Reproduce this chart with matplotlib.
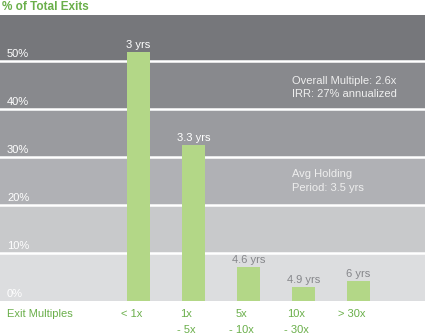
import matplotlib
matplotlib.use('Agg')
import matplotlib.pyplot as plt

plt.rcParams['font.family'] = ['Liberation Sans', 'DejaVu Sans']

categories = ['< 1x', '1x\n- 5x', '5x\n- 10x', '10x\n- 30x', '> 30x']
share = [52, 32.5, 7.1, 3.0, 4.2]
hold_labels = ['3 yrs', '3.3 yrs', '4.6 yrs', '4.9 yrs', '6 yrs']
ytick_vals = [0, 10, 20, 30, 40, 50]
band_colors = ['#dcdddf', '#c8c9cb', '#b0b1b5', '#9a9b9f', '#88898d', '#76777b']

green = '#6aaf4a'
bar_color = '#b3d787'
fs = 8

fig = plt.figure(figsize=(4.25, 3.36), dpi=100)
ax = fig.add_axes([0, 0.104, 1, 0.851])

# background bands
for i, c in enumerate(band_colors):
    ax.axhspan(i * 10, i * 10 + 10, color=c, zorder=0, lw=0)
for v in ytick_vals[1:]:
    ax.axhline(v, color='white', lw=1.8, zorder=1)

x = list(range(len(categories)))
ax.bar(x, share, width=0.42, color=bar_color, zorder=2)

for xi, v, lab in zip(x, share, hold_labels):
    col = 'white' if v > 20 else '#85868a'
    ax.text(xi, v + 0.4, lab, ha='center', va='bottom', fontsize=fs, color=col, zorder=3)

for v in ytick_vals:
    ax.text(-2.39, v + 0.5, f'{v}%', ha='left', va='bottom', fontsize=fs, color='white')

ax.text(2.8, 44.5, 'Overall Multiple: 2.6x\nIRR: 27% annualized', ha='left', va='center',
        fontsize=fs, color='#eeeeee', linespacing=1.45)
ax.text(2.8, 25.0, 'Avg Holding\nPeriod: 3.5 yrs', ha='left', va='center',
        fontsize=fs, color='#eeeeee', linespacing=1.45)

ax.set_xlim(-2.518, 5.21)
ax.set_ylim(0, 59.6)
ax.axis('off')

# x labels, one line at a time
fig.text(7 / 425, 1 - 314 / 336, 'Exit Multiples', ha='left', va='center', fontsize=fs, color=green)
for xi, lab in zip(x, categories):
    for k, line in enumerate(lab.split('\n')):
        ax.text(xi - 0.13, 0, line, transform=ax.get_xaxis_transform(), ha='center', va='center',
                fontsize=fs, color=green)
        ax.texts[-1].set_position((xi - 0.13, -(13 + 16 * k) / 286))

fig.text(2 / 425, 1 - 7 / 336, '% of Total Exits', ha='left', va='center', fontsize=8.5,
         color=green, fontweight='bold')

fig.savefig('out.png', dpi=100)
